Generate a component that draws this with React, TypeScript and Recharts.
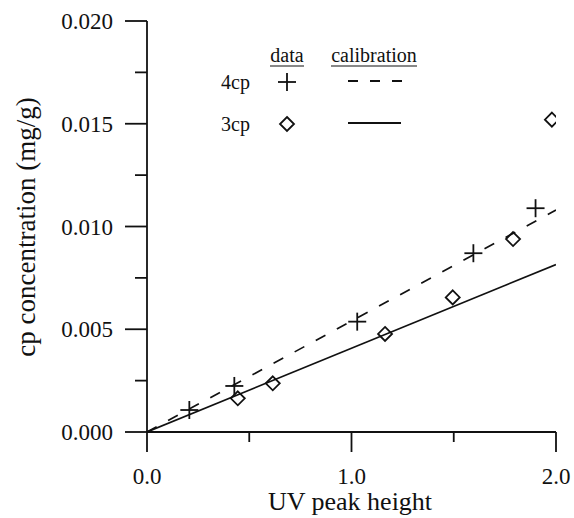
import React from "react";
import {
  ComposedChart,
  XAxis,
  YAxis,
  Scatter,
  Line,
  Customized,
} from "recharts";

// ---- data ----
const xTicks = [0, 0.5, 1, 1.5, 2];
const xMajorLabels: Record<string, string> = { "0": "0.0", "1": "1.0", "2": "2.0" };
const yTicks = [0, 0.0025, 0.005, 0.0075, 0.01, 0.0125, 0.015, 0.0175, 0.02];
const yMajorLabels: Record<string, string> = {
  "0": "0.000",
  "0.005": "0.005",
  "0.01": "0.010",
  "0.015": "0.015",
  "0.02": "0.020",
};

const cp4X = [0.207, 0.427, 1.028, 1.596, 1.9];
const cp4Y = [0.00107, 0.00224, 0.00537, 0.0087, 0.01089];
const cp3X = [0.444, 0.615, 1.164, 1.495, 1.79, 1.98];
const cp3Y = [0.00164, 0.00237, 0.00477, 0.00655, 0.00939, 0.0152];

const cal4X = [0, 2];
const cal4Y = [0, 0.0108];
const cal3X = [0, 2];
const cal3Y = [0, 0.00815];

const toRows = (xs: number[], ys: number[]) => xs.map((x, i) => ({ x, y: ys[i] }));
const cp4Data = toRows(cp4X, cp4Y);
const cp3Data = toRows(cp3X, cp3Y);
const cal4Data = toRows(cal4X, cal4Y);
const cal3Data = toRows(cal3X, cal3Y);

const FONT = "'Liberation Serif', 'Times New Roman', serif";
const INK = "#111";

const PlusShape = (props: any) => {
  const { cx, cy } = props;
  const h = 9;
  return (
    <g>
      <line x1={cx - h} y1={cy} x2={cx + h} y2={cy} stroke={INK} strokeWidth={1.8} />
      <line x1={cx} y1={cy - h} x2={cx} y2={cy + h} stroke={INK} strokeWidth={1.8} />
    </g>
  );
};

const DiamondShape = (props: any) => {
  const { cx, cy } = props;
  const h = 7;
  return (
    <polygon
      points={`${cx},${cy - h} ${cx + h},${cy} ${cx},${cy + h} ${cx - h},${cy}`}
      fill="none"
      stroke={INK}
      strokeWidth={1.8}
    />
  );
};

const YTick = (props: any) => {
  const { x, y, payload } = props;
  const key = String(+payload.value.toFixed(6));
  const label = yMajorLabels[key];
  const major = label !== undefined;
  return (
    <g>
      <line x1={x - (major ? 22 : 12)} y1={y} x2={x} y2={y} stroke={INK} strokeWidth={1.8} />
      {major && (
        <text x={x - 34} y={y} dy="0.35em" textAnchor="end" fontFamily={FONT} fontSize={23} fill={INK}>
          {label}
        </text>
      )}
    </g>
  );
};

const XTick = (props: any) => {
  const { x, y, payload } = props;
  const key = String(+payload.value.toFixed(6));
  const label = xMajorLabels[key];
  const major = label !== undefined;
  return (
    <g>
      <line x1={x} y1={y} x2={x} y2={y + (major ? 20 : 10)} stroke={INK} strokeWidth={1.8} />
      {major && (
        <text x={x} y={y + 52} textAnchor="middle" fontFamily={FONT} fontSize={23} fill={INK}>
          {label}
        </text>
      )}
    </g>
  );
};

const Decorations = () => (
  <g fontFamily={FONT} fill={INK}>
    {/* axis titles */}
    <text x={350} y={510} textAnchor="middle" fontSize={26}>
      UV peak height
    </text>
    <text x={35} y={227} textAnchor="middle" fontSize={27} transform="rotate(-90, 35, 227)">
      cp concentration (mg/g)
    </text>
    {/* legend */}
    <text x={287} y={62} textAnchor="middle" fontSize={20}>data</text>
    <line x1={270} y1={66} x2={304} y2={66} stroke={INK} strokeWidth={1.2} />
    <text x={374} y={62} textAnchor="middle" fontSize={20}>calibration</text>
    <line x1={331} y1={66} x2={417} y2={66} stroke={INK} strokeWidth={1.2} />
    <text x={250} y={89} textAnchor="end" fontSize={20}>4cp</text>
    <text x={250} y={131} textAnchor="end" fontSize={20}>3cp</text>
    <PlusShape cx={287} cy={82} />
    <DiamondShape cx={287} cy={124} />
    <line x1={348} y1={81} x2={402} y2={81} stroke={INK} strokeWidth={1.8} strokeDasharray="10 12" />
    <line x1={348} y1={123} x2={401} y2={123} stroke={INK} strokeWidth={1.8} />
  </g>
);

export default function App() {
  return (
    <div style={{ position: "absolute", left: 0, top: 0, background: "#fff" }}>
      <ComposedChart
        width={574}
        height={518}
        margin={{ top: 21, right: 18, bottom: 0, left: 0 }}
      >
        <XAxis
          type="number"
          dataKey="x"
          domain={[0, 2]}
          ticks={xTicks}
          interval={0}
          allowDataOverflow
          height={86}
          tickSize={0}
          tickMargin={0}
          tickLine={false}
          axisLine={{ stroke: INK, strokeWidth: 1.8 }}
          tick={<XTick />}
        />
        <YAxis
          type="number"
          dataKey="y"
          domain={[0, 0.02]}
          ticks={yTicks}
          interval={0}
          allowDataOverflow
          width={147}
          tickSize={0}
          tickMargin={0}
          tickLine={false}
          axisLine={{ stroke: INK, strokeWidth: 1.8 }}
          tick={<YTick />}
        />
        <Line
          data={cal4Data}
          dataKey="y"
          type="linear"
          stroke={INK}
          strokeWidth={1.7}
          strokeDasharray="11 13"
          dot={false}
          activeDot={false}
          isAnimationActive={false}
        />
        <Line
          data={cal3Data}
          dataKey="y"
          type="linear"
          stroke={INK}
          strokeWidth={1.7}
          dot={false}
          activeDot={false}
          isAnimationActive={false}
        />
        <Scatter data={cp4Data} dataKey="y" shape={<PlusShape />} isAnimationActive={false} />
        <Scatter data={cp3Data} dataKey="y" shape={<DiamondShape />} isAnimationActive={false} />
        <Customized component={Decorations} />
      </ComposedChart>
    </div>
  );
}
